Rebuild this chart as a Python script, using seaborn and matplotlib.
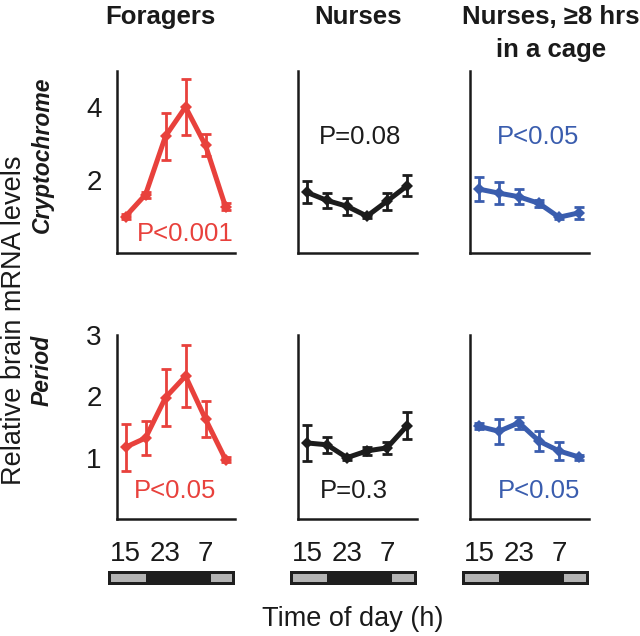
import numpy as np
import pandas as pd
import matplotlib
matplotlib.use("Agg")
import matplotlib.pyplot as plt
import seaborn as sns
from matplotlib.patches import Rectangle

# ---------------- data ----------------
hours = [15, 19, 23, 27, 31, 35]          # time of day (27 = 3 h, 31 = 7 h next day)
tick_labels = ["15", "", "23", "", "7", ""]
groups = ["Foragers", "Nurses", "Nurses, ≥8 hrs\nin a cage"]
genes = ["Cryptochrome", "Period"]

cry_foragers = [1.00, 1.60, 3.20, 4.00, 2.95, 1.27]
cry_foragers_err = [0.08, 0.08, 0.64, 0.78, 0.30, 0.10]
cry_nurses = [1.66, 1.44, 1.28, 1.01, 1.42, 1.84]
cry_nurses_err = [0.30, 0.20, 0.24, 0.05, 0.23, 0.29]
cry_caged = [1.75, 1.64, 1.54, 1.36, 0.98, 1.10]
cry_caged_err = [0.33, 0.30, 0.21, 0.10, 0.05, 0.17]

per_foragers = [1.17, 1.32, 1.98, 2.33, 1.63, 0.97]
per_foragers_err = [0.38, 0.27, 0.46, 0.50, 0.30, 0.04]
per_nurses = [1.24, 1.21, 1.00, 1.11, 1.16, 1.52]
per_nurses_err = [0.30, 0.13, 0.04, 0.07, 0.10, 0.22]
per_caged = [1.51, 1.43, 1.57, 1.27, 1.11, 1.01]
per_caged_err = [0.05, 0.20, 0.10, 0.16, 0.15, 0.04]

p_values = [["P<0.001", "P=0.08", "P<0.05"], ["P<0.05", "P=0.3", "P<0.05"]]
cry_yticks = [2, 4]
per_yticks = [1, 2, 3]
lights_off = 19
lights_on = 32

values = [[cry_foragers, cry_nurses, cry_caged], [per_foragers, per_nurses, per_caged]]
errors = [[cry_foragers_err, cry_nurses_err, cry_caged_err],
          [per_foragers_err, per_nurses_err, per_caged_err]]

# ---------------- style ----------------
sns.set_theme(style="white")
plt.rcParams["font.family"] = ["Liberation Sans", "DejaVu Sans"]
plt.rcParams["axes.linewidth"] = 1.8

colors = ["#E8413C", "#1C1C1C", "#3A5DAE"]
W, H = 640, 636
fig = plt.figure(figsize=(6.4, 6.36), dpi=100)


def px(x0, y0, x1, y1):
    return [x0 / W, 1 - y1 / H, (x1 - x0) / W, (y1 - y0) / H]


col_left = [116.5, 298, 470]
col_w = 118.5
rows = [(70.5, 253), (335, 519)]
ylims = [(0, 5), (0, 3)]
yticks = [cry_yticks, per_yticks]
xlim = (13.2, 36.9)

p_pos = [[(185, 234), (360, 137), (538, 137)],
         [(175, 491), (354, 491), (539, 491)]]

for r in range(2):
    for c in range(3):
        ax = fig.add_axes(px(col_left[c], rows[r][0], col_left[c] + col_w, rows[r][1]))
        df = pd.DataFrame({"hour": hours, "value": values[r][c], "err": errors[r][c]})
        ax.errorbar(df["hour"], df["value"], yerr=df["err"], fmt="none",
                    ecolor=colors[c], elinewidth=2.0, capsize=3.6, capthick=2.0, zorder=2)
        sns.lineplot(data=df, x="hour", y="value", ax=ax, color=colors[c], lw=3.6,
                     marker="D", markersize=6.5, markeredgecolor=colors[c],
                     markeredgewidth=0, errorbar=None, zorder=3)
        ax.set_xlim(*xlim)
        ax.set_ylim(*ylims[r])
        ax.set_xticks(hours)
        ax.set_yticks(yticks[r])
        for s in ["top", "right"]:
            ax.spines[s].set_visible(False)
        for s in ["left", "bottom"]:
            ax.spines[s].set_color("#1a1a1a")
            ax.spines[s].set_linewidth(1.8)
        ax.tick_params(axis="both", direction="out", length=3.8, width=1.8,
                       color="#1a1a1a", labelsize=20, labelcolor="#1a1a1a")
        ax.tick_params(axis="y", pad=7)
        ax.tick_params(axis="x", pad=12)
        if r == 1:
            ax.set_xticklabels(tick_labels)
        else:
            ax.set_xticklabels([])
        if c != 0:
            ax.set_yticklabels([])
        ax.set_xlabel("")
        ax.set_ylabel("")
        ax.set_facecolor("none")
        ax.grid(False)
        tx, ty = p_pos[r][c]
        fig.text(tx / W, 1 - ty / H, p_values[r][c], color=colors[c], fontsize=18.5,
                 ha="center", va="center")

# light/dark bar under the bottom panels
for c in range(3):
    bx = fig.add_axes(px(col_left[c] - 8.5, 571, col_left[c] + col_w, 585))
    bx.set_xlim(11.5, 36.9)
    bx.set_ylim(0, 1)
    bx.axis("off")
    bx.add_patch(Rectangle((11.5, 0), 36.9 - 11.5, 1, facecolor="#1e1e1e",
                           edgecolor="none"))
    bx.add_patch(Rectangle((12.1, 0.22), lights_off - 12.1, 0.56,
                           facecolor="#b4b4b4", edgecolor="none"))
    bx.add_patch(Rectangle((lights_on, 0.22), 36.3 - lights_on, 0.56,
                           facecolor="#b4b4b4", edgecolor="none"))

# titles
title_x = [160, 358, 551]
for c in range(3):
    fig.text(title_x[c] / W, 1 - 5 / H, groups[c], fontsize=18.5, fontweight="bold",
             ha="center", va="top", color="#1a1a1a", linespacing=1.45)

# gene labels and axis labels
fig.text(42 / W, 1 - 155 / H, genes[0], rotation=90, fontsize=16.5, fontweight="bold",
         fontstyle="italic", ha="center", va="center", color="#1a1a1a")
fig.text(42 / W, 1 - 370 / H, genes[1], rotation=90, fontsize=16.5, fontweight="bold",
         fontstyle="italic", ha="center", va="center", color="#1a1a1a")
fig.text(14 / W, 1 - 320 / H, "Relative brain mRNA levels", rotation=90, fontsize=19.5,
         ha="center", va="center", color="#1a1a1a")
fig.text(353 / W, 1 - 619 / H, "Time of day (h)", fontsize=19.5,
         ha="center", va="center", color="#1a1a1a")

fig.savefig("out.png", dpi=100, facecolor="white")
